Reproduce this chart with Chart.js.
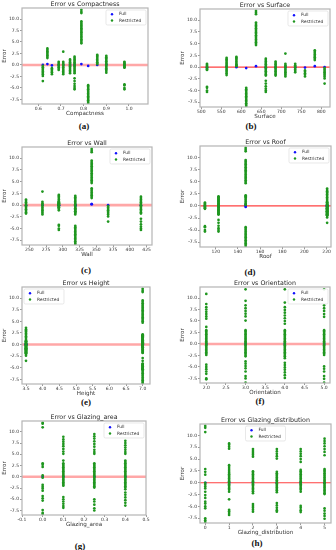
<!DOCTYPE html>
<html>
<head>
<meta charset="utf-8">
<script src="https://cdn.jsdelivr.net/npm/chart.js@4.4.1/dist/chart.umd.min.js"></script>
<style>
  body { margin: 0; background: #fff; width: 336px; height: 550px; position: relative; overflow: hidden; }
  canvas.panel { position: absolute; }
  .cap { position: absolute; font: bold 9px "Liberation Serif", serif; color: #111; transform: translate(-50%, -50%); white-space: nowrap; }
</style>
</head>
<body>
<div id="root"></div>
<script>
// 12 building shapes (shared by panels a-e)
const shapeCompactness = [0.98, 0.90, 0.86, 0.82, 0.79, 0.76, 0.74, 0.71, 0.69, 0.66, 0.64, 0.62];
const shapeSurface = [514.5, 563.5, 588, 612.5, 637, 661.5, 686, 710.5, 735, 759.5, 784, 808.5];
const shapeWall = [294, 318.5, 294, 318.5, 343, 416.5, 245, 269.5, 294, 318.5, 343, 367.5];
const shapeRoof = [110.25, 122.5, 147, 147, 147, 122.5, 220.5, 220.5, 220.5, 220.5, 220.5, 220.5];
const shapeHeight = [7, 7, 7, 7, 7, 7, 3.5, 3.5, 3.5, 3.5, 3.5, 3.5];

const shapeFull = [0.0, 0.1, 0.0, -0.2, 0.2, 0.0, 0.0, 0.0, 0.0, -0.1, 0.2, 0.0];
const shapeRestricted = [
  [0.7, 0.5, 0.3, 0.1, -0.1, -0.3, -0.5, -0.6, -4.2, -4.4, -5.0, -5.3],
  [2.0, 1.7, 1.4, 1.1, 0.8, 0.5, 0.2, -0.1, -0.4, -0.7, -1.0, -1.3, -1.7],
  [2.2, 2.0, 1.8, 1.5, 1.2, 0.9, 0.6, 0.4, 0.2],
  [-4.4, -4.7, -5.0, -5.3, -5.6, -5.9, -6.2, -6.5, -6.8, -7.1, -7.4, -7.7, -8.0, -8.3],
  [12.0, 11.6, 11.3, 9.5, 9.2, 8.9, 8.6, 8.3, 8.0, 7.7, 7.4, 7.1, 6.8, 6.5, 6.2, 5.9, 5.6, 5.3, 5.0, 4.7],
  [1.8, 1.5, 1.2, 0.9, 0.6, 0.3, 0.0, -0.3, -0.6, -0.9, -1.2, -1.5, -1.8, -2.9, -3.5, -4.1, -4.6, -5.0, -5.3],
  [1.2, 0.9, 0.6, 0.3, 0.0, -0.3, -0.6, -0.9, -1.2, -1.5, -1.8],
  [2.9, 0.7, 0.4, 0.1, -0.2, -0.5, -0.8, -1.1, -1.4, -1.7, -2.0],
  [0.7, 0.4, 0.1, -0.2, -0.5, -0.8, -1.1],
  [-0.7, -1.0, -1.3, -1.6, -2.0],
  [3.6, 3.3, 3.0, 2.7, 2.4, 2.1, 1.8, 1.5],
  [-0.2, -0.5, -0.8, -1.1, -1.4, -1.7, -2.0, -2.4, -3.5],
];

// orientation (panel f)
const orientValues = [2, 3, 4, 5];
const orientFull = [0.0, 0.0, 0.0, 0.0];
const orientRestricted = [
  [10.9, 8.7, 8.0, 7.5, 7.0, 6.5, 6.0, 5.5, 3.7, 3.0, 2.7, 2.4, 2.1, 1.8, 1.5, 1.2, 0.9, 0.6, 0.3, 0.0, -0.3, -0.6, -0.9, -1.2, -1.5, -1.8, -2.1, -2.4, -4.5, -5.0, -5.5, -6.0, -6.5, -7.5, -7.7],
  [11.9, 9.4, 8.4, 7.8, 7.2, 6.6, 6.0, 5.1, 3.0, 2.7, 2.4, 2.1, 1.8, 1.5, 1.2, 0.9, 0.6, 0.3, 0.0, -0.3, -0.6, -0.9, -1.2, -1.5, -1.8, -2.1, -2.4, -2.7, -3.8, -4.3, -4.8, -5.3, -6.0, -7.0, -7.5, -8.4],
  [11.9, 9.0, 8.0, 7.4, 6.8, 6.2, 5.6, 5.0, 4.4, 3.0, 2.7, 2.4, 2.1, 1.8, 1.5, 1.2, 0.9, 0.6, 0.3, 0.0, -0.3, -0.6, -0.9, -1.2, -1.5, -1.8, -2.1, -2.4, -2.7, -3.1, -4.1, -4.6, -5.1, -5.6, -6.2, -6.8, -7.4],
  [11.9, 8.4, 7.8, 7.2, 6.5, 5.9, 3.0, 2.7, 2.4, 2.1, 1.8, 1.5, 1.2, 0.9, 0.6, 0.3, 0.0, -0.3, -0.6, -0.9, -1.2, -1.5, -1.8, -2.1, -2.4, -4.9, -5.4, -6.0, -7.0, -7.6, -8.4],
];

// glazing area (panel g)
const glazAreaValues = [0, 0.1, 0.25, 0.4];
const glazAreaFull = [0.0, 0.0, 0.0, 0.0];
const glazAreaRestricted = [
  [12.0, 11.8, 11.0, 3.0, 2.7, 2.2, 0.3, -0.2, -1.8, -2.2, -2.6, -3.1, -4.3, -4.8, -5.3, -7.4, -8.0, -8.3],
  [8.9, 8.3, 7.8, 7.3, 6.8, 6.2, 5.6, 5.1, 3.6, 3.0, 2.7, 2.4, 2.1, 1.8, 1.5, 1.2, 0.9, 0.6, 0.3, 0.0, -0.3, -0.6, -0.9, -1.2, -1.5, -1.8, -2.0, -4.5, -5.0, -5.5, -6.0, -6.5, -6.9],
  [9.5, 9.0, 8.5, 7.9, 7.3, 6.7, 6.0, 5.5, 5.1, 3.0, 2.7, 2.4, 2.1, 1.8, 1.5, 1.2, 0.9, 0.6, 0.3, 0.0, -0.3, -0.6, -0.9, -1.2, -1.5, -1.8, -2.1, -2.4, -5.0, -5.5, -6.2, -7.0, -7.5],
  [8.0, 7.5, 7.0, 6.5, 6.0, 5.5, 5.1, 3.6, 3.3, 3.0, 2.7, 2.4, 2.1, 1.8, 1.5, 1.2, 0.9, 0.6, 0.3, 0.0, -0.3, -0.6, -0.9, -1.2, -1.5, -1.8, -2.1, -2.4, -2.8, -3.5, -4.0, -4.6, -5.2, -5.8, -6.4],
];

// glazing distribution (panel h)
const glazDistValues = [0, 1, 2, 3, 4, 5];
const glazDistFull = [0.0, 0.0, 0.0, 0.0, 0.0, 0.0];
const glazDistRestricted = [
  [12.0, 11.6, 10.7, 2.9, 2.3, 1.7, 0.0, -0.4, -0.8, -1.2, -1.9, -2.6, -3.2, -4.0, -4.4, -5.0, -5.4, -7.5, -7.9, -8.3],
  [8.3, 8.0, 7.6, 7.2, 3.7, 3.3, 2.9, 2.5, 2.1, 1.8, 1.5, 1.2, 0.9, 0.6, 0.3, 0.0, -0.3, -0.6, -0.9, -1.2, -1.5, -1.9, -3.5, -5.7, -6.0, -6.4, -6.8],
  [7.1, 6.7, 6.3, 5.9, 5.5, 2.4, 2.1, 1.8, 1.5, 1.2, 0.9, 0.6, 0.3, 0.0, -0.3, -0.6, -0.9, -1.2, -1.5, -1.8, -2.2, -4.5, -4.9, -5.3, -5.7, -6.1],
  [7.1, 6.6, 6.1, 5.6, 5.1, 2.3, 2.0, 1.7, 1.4, 1.1, 0.8, 0.5, 0.2, -0.1, -0.4, -0.7, -1.0, -1.3, -1.6, -2.0, -4.3, -4.8, -5.3, -5.8, -6.1],
  [7.1, 6.6, 6.1, 5.6, 5.0, 4.4, 2.7, 2.4, 2.1, 1.8, 1.5, 1.2, 0.9, 0.6, 0.3, 0.0, -0.3, -0.6, -0.9, -1.2, -1.5, -1.9, -4.9, -5.3, -5.8, -6.2],
  [9.3, 8.8, 8.3, 7.7, 7.1, 6.5, 5.8, 2.9, 2.6, 2.3, 2.0, 1.7, 1.4, 1.1, 0.8, 0.5, 0.2, -0.1, -0.4, -0.7, -1.0, -1.3, -1.6, -1.9, -2.2, -2.4, -5.4, -5.9, -6.5, -7.0, -7.6],
];

const yTicks = [-7.5, -5.0, -2.5, 0.0, 2.5, 5.0, 7.5, 10.0];

const FONT = '"DejaVu Sans", sans-serif';
const GREEN = '#1f961f';
const BLUE = '#1010ff';
const lineStyles = {
  soft: { color: 'rgba(255, 60, 60, 0.45)', width: 2.6 },
  hard: { color: 'rgba(255, 30, 30, 0.85)', width: 1.1 },
};

const panels = [
  { tag: '(a)', title: 'Error vs Compactness', xLabel: 'Compactness', frame: [22, 8, 148, 104], x: [0.528, 1.084],
    xTicks: [0.6, 0.7, 0.8, 0.9, 1.0], dec: 1, xs: shapeCompactness, full: shapeFull, restricted: shapeRestricted,
    legend: 'right', line: 'soft', cap: [84, 126] },
  { tag: '(b)', title: 'Error vs Surface', xLabel: 'Surface', frame: [200, 9, 330, 107], x: [497, 822],
    xTicks: [500, 550, 600, 650, 700, 750, 800], dec: 0, xs: shapeSurface, full: shapeFull, restricted: shapeRestricted,
    legend: 'right', line: 'hard', cap: [251, 126] },
  { tag: '(c)', title: 'Error vs Wall', xLabel: 'Wall', frame: [22, 147, 152, 245], x: [239, 433],
    xTicks: [250, 275, 300, 325, 350, 375, 400, 425], dec: 0, xs: shapeWall, full: shapeFull, restricted: shapeRestricted,
    legend: 'right', line: 'soft', cap: [86, 270] },
  { tag: '(d)', title: 'Error vs Roof', xLabel: 'Roof', frame: [200, 146, 331, 247], x: [105.8, 224],
    xTicks: [120, 140, 160, 180, 200, 220], dec: 0, xs: shapeRoof, full: shapeFull, restricted: shapeRestricted,
    legend: 'right', line: 'hard', cap: [250, 272] },
  { tag: '(e)', title: 'Error vs Height', xLabel: 'Height', frame: [22, 287, 150, 384], x: [3.38, 7.22],
    xTicks: [3.5, 4.0, 4.5, 5.0, 5.5, 6.0, 6.5, 7.0], dec: 1, xs: shapeHeight, full: shapeFull, restricted: shapeRestricted,
    legend: 'left', line: 'soft', cap: [86, 402] },
  { tag: '(f)', title: 'Error vs Orientation', xLabel: 'Orientation', frame: [200, 287, 330, 383], x: [1.84, 5.15],
    xTicks: [2.0, 2.5, 3.0, 3.5, 4.0, 4.5, 5.0], dec: 1, xs: orientValues, full: orientFull, restricted: orientRestricted,
    legend: 'right', line: 'soft', cap: [260, 401] },
  { tag: '(g)', title: 'Error vs Glazing_area', xLabel: 'Glazing_area', frame: [22, 421, 146, 515], x: [-0.1, 0.5],
    xTicks: [-0.1, 0.0, 0.1, 0.2, 0.3, 0.4, 0.5], dec: 1, xs: glazAreaValues, full: glazAreaFull, restricted: glazAreaRestricted,
    legend: 'right', line: 'soft', cap: [80, 546] },
  { tag: '(h)', title: 'Error vs Glazing_distribution', xLabel: 'Glazing_distribution', frame: [200, 424, 331, 523], x: [-0.22, 5.27],
    xTicks: [0, 1, 2, 3, 4, 5], dec: 0, xs: glazDistValues, full: glazDistFull, restricted: glazDistRestricted,
    legend: 'center', line: 'hard', cap: [257, 543] },
];

const Y_MIN = -8.5;
const Y_MAX = 12.4;
const AXIS_W = 21;
const AXIS_H = 13;
const TOP_PAD = 9;
const RIGHT_PAD = 5;

const columnPoints = (xs, errs) => {
  const pts = [];
  xs.forEach((x, i) => errs[i].forEach((y) => pts.push({ x, y })));
  return pts;
};

const framePlugin = {
  id: 'frame',
  afterDatasetsDraw(chart) {
    const { ctx, chartArea: a } = chart;
    ctx.save();
    ctx.strokeStyle = '#b4b4b4';
    ctx.lineWidth = 1.2;
    ctx.strokeRect(a.left, a.top, a.right - a.left, a.bottom - a.top);
    ctx.restore();
  },
};

const headPlugin = {
  id: 'head',
  afterDraw(chart, args, opts) {
    const { ctx, chartArea: a } = chart;
    ctx.save();
    // title above the frame
    ctx.font = `6.3px ${FONT}`;
    ctx.fillStyle = '#262626';
    ctx.textAlign = 'center';
    ctx.textBaseline = 'middle';
    ctx.fillText(opts.title, (a.left + a.right) / 2, a.top - 3.8);

    // legend inside the frame
    const w = 40;
    const h = 15;
    let x = a.right - w - 2;
    if (opts.legend === 'left') x = a.left + 2;
    if (opts.legend === 'center') x = (a.left + a.right) / 2 - w / 2;
    const y = a.top + 2;
    ctx.fillStyle = 'rgba(255,255,255,0.85)';
    ctx.strokeStyle = '#d8d8d8';
    ctx.lineWidth = 0.6;
    ctx.beginPath();
    ctx.roundRect(x, y, w, h, 1.5);
    ctx.fill();
    ctx.stroke();
    const entries = [['Full', BLUE], ['Restricted', GREEN]];
    ctx.font = `4.4px ${FONT}`;
    ctx.textAlign = 'left';
    entries.forEach(([label, color], i) => {
      const ry = y + 4.3 + i * 6.2;
      ctx.fillStyle = color;
      ctx.beginPath();
      ctx.arc(x + 6, ry, 1.2, 0, Math.PI * 2);
      ctx.fill();
      ctx.fillStyle = '#333';
      ctx.fillText(label, x + 13, ry);
    });
    ctx.restore();
  },
};

const root = document.getElementById('root');

panels.forEach((p) => {
  const [l, t, r, b] = p.frame;
  const canvas = document.createElement('canvas');
  canvas.className = 'panel';
  const width = r - l + AXIS_W + RIGHT_PAD;
  const height = b - t + TOP_PAD + AXIS_H;
  canvas.width = width;
  canvas.height = height;
  canvas.style.left = `${l - AXIS_W}px`;
  canvas.style.top = `${t - TOP_PAD}px`;
  canvas.style.width = `${width}px`;
  canvas.style.height = `${height}px`;
  root.appendChild(canvas);

  const cap = document.createElement('div');
  cap.className = 'cap';
  cap.textContent = p.tag;
  cap.style.left = `${p.cap[0]}px`;
  cap.style.top = `${p.cap[1]}px`;
  root.appendChild(cap);

  const line = lineStyles[p.line];

  new Chart(canvas, {
    type: 'scatter',
    data: {
      datasets: [
        {
          label: 'Restricted',
          data: columnPoints(p.xs, p.restricted),
          backgroundColor: GREEN,
          borderWidth: 0,
          pointRadius: 1.35,
          order: 0,
        },
        {
          label: 'Full',
          data: p.xs.map((x, i) => ({ x, y: p.full[i] })),
          backgroundColor: BLUE,
          borderWidth: 0,
          pointRadius: 1.35,
          order: 1,
        },
        {
          type: 'line',
          label: 'zero',
          data: [{ x: p.x[0], y: 0 }, { x: p.x[1], y: 0 }],
          borderColor: line.color,
          borderWidth: line.width,
          pointRadius: 0,
          order: 2,
        },
      ],
    },
    options: {
      responsive: false,
      animation: false,
      devicePixelRatio: 1,
      layout: { padding: { top: TOP_PAD, right: RIGHT_PAD, left: 0, bottom: 0 } },
      plugins: {
        legend: { display: false },
        tooltip: { enabled: false },
        head: { title: p.title, legend: p.legend },
      },
      scales: {
        x: {
          type: 'linear',
          min: p.x[0],
          max: p.x[1],
          afterBuildTicks: (scale) => { scale.ticks = p.xTicks.map((v) => ({ value: v })); },
          afterFit: (scale) => { scale.height = AXIS_H; },
          grid: { display: true, drawOnChartArea: false, tickLength: 2, color: '#555', tickWidth: 0.6 },
          border: { display: false },
          ticks: {
            font: { family: FONT, size: 4.5 },
            color: '#333',
            padding: 0.5,
            maxRotation: 0,
            autoSkip: false,
            callback: (v) => Number(v).toFixed(p.dec),
          },
          title: { display: true, text: p.xLabel, font: { family: FONT, size: 5.6 }, color: '#333', padding: 0 },
        },
        y: {
          type: 'linear',
          min: Y_MIN,
          max: Y_MAX,
          afterBuildTicks: (scale) => { scale.ticks = yTicks.map((v) => ({ value: v })); },
          afterFit: (scale) => { scale.width = AXIS_W; },
          grid: { display: true, drawOnChartArea: false, tickLength: 2, color: '#555', tickWidth: 0.6 },
          border: { display: false },
          ticks: {
            font: { family: FONT, size: 4.5 },
            color: '#333',
            padding: 1,
            autoSkip: false,
            callback: (v) => Number(v).toFixed(1),
          },
          title: { display: true, text: 'Error', font: { family: FONT, size: 5.6 }, color: '#333', padding: 0 },
        },
      },
    },
    plugins: [framePlugin, headPlugin],
  });
});
</script>
</body>
</html>
